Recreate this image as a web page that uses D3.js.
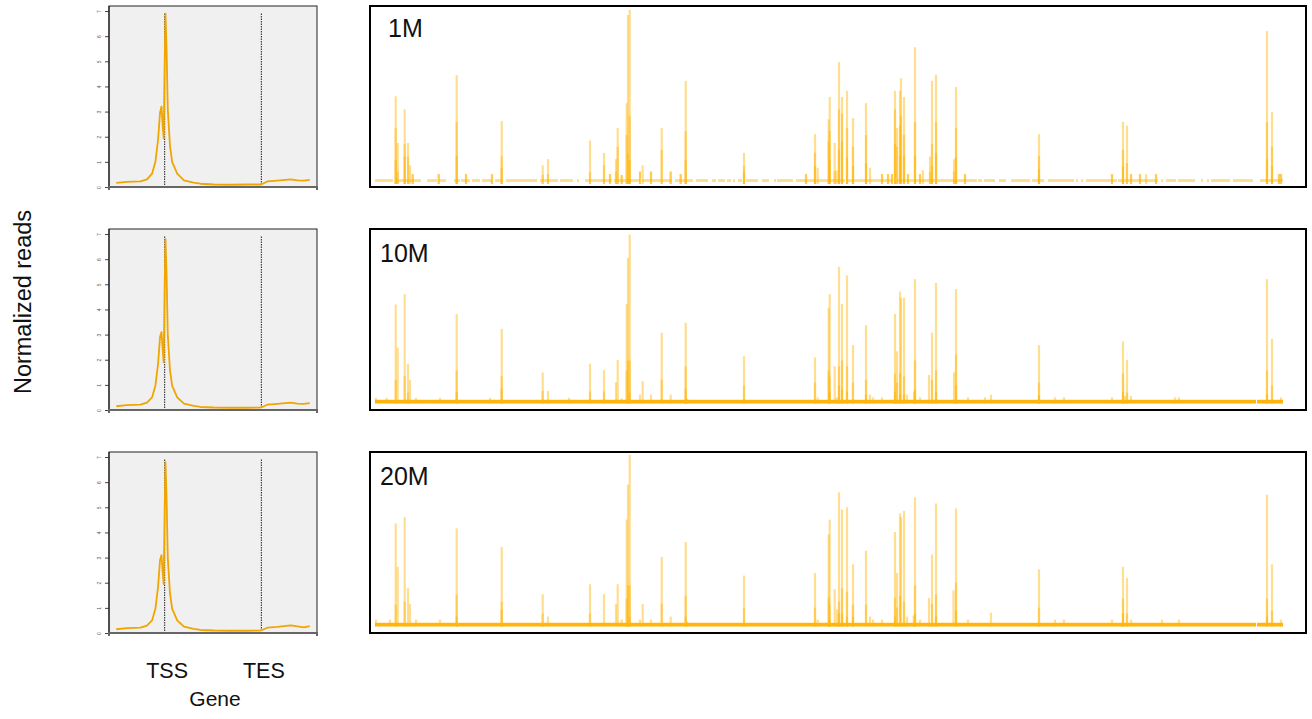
<!DOCTYPE html>
<html>
<head>
<meta charset="utf-8">
<script src="https://cdn.jsdelivr.net/npm/d3@7"></script>
<style>
  body { margin: 0; background: #fff; }
  text { font-family: "Liberation Sans", Arial, sans-serif; }
</style>
</head>
<body>
<div id="viz"></div>
<script>
const width = 1312;
const height = 719;

const sampleLabels = ['1M', '10M', '20M'];
const yTicks = [0, 1, 2, 3, 4, 5, 6, 7];
const geneMarks = [{ name: 'TSS', bin: 20 }, { name: 'TES', bin: 60 }];

// metagene profile, bins 0-80 (TSS = 20, TES = 60)
const profileBins = [0, 4.4, 10, 12.7, 14.8, 16.2, 17.3, 18.1, 18.7, 19.2, 19.6, 20.0, 20.35, 20.8, 21.3, 22.2, 23.1, 25.2, 28, 32, 34.8, 40.3, 47.3, 54.2, 59.7, 60.4, 62.4, 66.6, 72.1, 74.9, 77.6, 80];
const profile1M = [0.16, 0.2, 0.22, 0.3, 0.53, 1.0, 1.9, 2.96, 3.2, 2.44, 1.94, 4.8, 6.9, 5.5, 3.1, 1.65, 1.0, 0.53, 0.26, 0.17, 0.13, 0.1, 0.09, 0.1, 0.1, 0.12, 0.22, 0.25, 0.3, 0.26, 0.25, 0.28];
const profile10M = [0.15, 0.19, 0.21, 0.29, 0.5, 0.97, 1.85, 2.9, 3.1, 2.4, 1.9, 4.8, 6.8, 5.4, 3.0, 1.6, 0.97, 0.5, 0.25, 0.16, 0.12, 0.1, 0.09, 0.09, 0.1, 0.12, 0.21, 0.24, 0.29, 0.25, 0.24, 0.27];
const profile20M = [0.15, 0.19, 0.21, 0.29, 0.5, 0.97, 1.85, 2.9, 3.1, 2.4, 1.95, 4.8, 6.8, 5.4, 3.0, 1.6, 0.97, 0.5, 0.25, 0.16, 0.12, 0.1, 0.09, 0.09, 0.1, 0.12, 0.21, 0.24, 0.3, 0.26, 0.22, 0.27];

// browser tracks: [position, layer heights...] (position in kb, 0-908)
const peaks1M = [
  [20.7, 3.53, 2.24, 0.96], [22.7, 1.65, 0.5], [29.7, 3.0, 1.6, 1.1], [33, 1.65, 1.1], [35, 0.75], [37.7, 0.4, 0.4],
  [63.7, 0.4, 0.4], [81.7, 4.38, 2.5, 1.12], [91, 0.4, 0.4], [117, 0.4, 0.4], [126.7, 2.53, 1.12, 0.63],
  [167.7, 0.75, 0.36], [173, 1.0, 0.4], [215, 1.75, 0.47], [229, 1.25, 0.76], [235, 0.4, 0.4], [241, 1.0, 0.5],
  [242.7, 2.25, 1.5], [246.7, 0.36, 0.36], [251.7, 3.25, 1.97], [253, 6.8, 1.23], [254.7, 7.0, 2.73, 0.96],
  [265, 0.5, 0.5], [267.7, 0.75], [276, 0.5, 0.5], [286.7, 2.25, 1.37], [295.7, 0.5, 0.5], [305.7, 0.4, 0.4],
  [310.7, 4.15, 2.13, 0.96], [369, 1.25, 0.72, 0.5], [431, 0.4, 0.4], [440, 2.0, 1.26, 0.72], [442.7, 0.65],
  [453.7, 2.6, 1.73], [454.7, 3.5, 2.13, 0.96], [459.7, 1.65, 0.52], [461.7, 0.55], [464, 4.9, 3.0, 1.37],
  [467, 3.5, 2.84, 1.73], [472, 3.75, 2.25, 1.08], [478, 2.65, 1.49, 0.72], [491, 3.25, 1.97, 0.84], [495, 0.65],
  [507, 0.4, 0.4], [513, 0.4, 0.4], [517, 0.4, 0.4], [520, 3.75, 3.0, 1.6], [522, 2.25, 1.49], [525, 3.75, 2.37, 1.12],
  [526, 4.25, 2.73], [529, 3.5, 1.97, 1.12], [533, 0.4, 0.4], [540, 5.5, 2.49, 1.12], [545, 0.4, 0.4], [548, 0.55],
  [555, 1.1, 0.48], [557, 4.15, 1.6, 0.72], [561, 4.4, 2.49, 1.24], [579, 1.0, 0.5], [581, 3.9, 2.25, 1.08],
  [590, 0.4, 0.4], [664, 2.0, 1.12, 0.6], [737, 0.4, 0.4], [748, 2.5, 1.37, 0.72], [752, 2.35, 0.84],
  [756, 0.4, 0.4], [765, 0.4, 0.4], [771, 0.4], [781, 0.4, 0.4], [892, 6.15, 2.49, 1.0], [897, 2.9, 1.49, 0.72],
  [904, 0.4, 0.4], [906, 0.4, 0.4]
];
const peaks10M = [
  [1, 0.23], [11.7, 0.23], [20.7, 3.98, 0.95], [22.7, 2.25], [29.7, 4.4, 1.1], [33, 1.6, 0.44], [35, 0.95],
  [41, 0.23], [65, 0.23], [81.7, 3.6, 1.33, 0.48], [115, 0.23], [126.7, 3.0, 1.1, 0.6], [167.7, 1.25, 0.5],
  [173, 0.5], [194, 0.23], [215, 1.6, 0.48], [229, 1.35, 0.48], [241, 0.85], [242.7, 1.75], [246.7, 0.2],
  [251.7, 4.0, 1.33], [253, 5.85, 1.73], [254.7, 6.8, 1.73, 0.44], [265, 0.36], [267.7, 0.9], [276, 0.36],
  [286.7, 2.85, 0.96], [295.7, 0.36], [310.7, 3.25, 1.49, 0.6], [312, 0.2], [369, 1.9, 0.72], [440, 1.85, 0.84],
  [442.7, 0.25], [453.7, 3.85, 1.33], [454.7, 4.4, 1.08, 0.48], [459.7, 1.5], [461.7, 0.25], [464, 5.5, 1.49, 0.72],
  [467, 4.0, 1.73, 0.56], [472, 5.15, 1.49, 0.48], [478, 2.35, 0.84], [491, 3.15, 0.96, 0.36], [495, 0.36],
  [498, 0.25], [507, 0.25], [520, 3.6, 1.2, 0.48], [522, 2.1, 0.84], [525, 4.5, 1.24, 0.36], [526, 4.25],
  [529, 4.25, 1.08, 0.36], [532, 0.36], [539, 0.48], [540, 5.0, 1.73, 0.56], [545, 0.25], [554, 1.15],
  [557, 2.85, 0.96], [561, 4.85, 1.33, 0.48], [579, 1.25], [581, 4.6, 1.97, 0.72], [593, 0.25], [610, 0.25],
  [616, 0.36], [664, 2.35, 0.84, 0.32], [680, 0.25], [689, 0.25], [737, 0.25], [748, 2.5, 1.2, 0.48], [750, 0.3],
  [752, 1.75, 0.44], [756, 0.3], [800, 0.25], [804, 0.25], [892, 5.0, 1.33, 0.36], [897, 2.6, 0.72], [906, 0.25]
];
const peaks20M = [
  [1, 0.28], [15, 0.28], [20.7, 4.15, 0.88], [22.7, 2.4], [29.7, 4.4, 1.0], [33, 1.55], [35, 0.9], [41, 0.28],
  [65, 0.28], [81.7, 3.95, 1.28, 0.4], [126.7, 3.2, 1.0, 0.68], [167.7, 1.3, 0.52], [173, 0.4], [215, 1.7, 0.52],
  [229, 1.3], [241, 0.9], [242.7, 1.7], [246.7, 0.28], [251.7, 4.3, 1.12], [253, 5.7, 1.65], [254.7, 6.9, 1.65, 0.4],
  [265, 0.28], [267.7, 0.9], [276, 0.28], [286.7, 2.8, 0.92], [295.7, 0.4], [310.7, 3.4, 1.24, 0.4], [312, 0.2],
  [369, 2.05, 0.76], [440, 2.15, 0.76], [442.7, 0.28], [453.7, 3.7, 1.16], [454.7, 4.3, 0.88, 0.28], [459.7, 1.5],
  [462, 0.68], [464, 5.4, 1.0, 0.52], [467, 4.7, 1.53, 0.52], [472, 4.8, 1.4, 0.4], [478, 2.5, 0.88, 0.4],
  [491, 3.05, 0.88], [495, 0.4], [498, 0.28], [507, 0.28], [520, 3.8, 1.16, 0.4], [522, 2.15, 0.76],
  [525, 4.55, 1.24], [526, 4.4], [529, 4.65, 1.0], [532, 0.4], [538.7, 0.44], [540, 5.2, 1.65, 0.52], [545, 0.28],
  [554, 1.15], [557, 2.9, 0.92], [561, 4.95, 1.28, 0.4], [578.5, 1.45], [581, 4.75, 1.77, 0.64], [593, 0.28],
  [616, 0.55], [664, 2.3, 0.76], [680, 0.28], [689, 0.28], [737, 0.28], [748, 2.4, 1.12, 0.52], [752, 1.95, 0.52],
  [756, 0.28], [787, 0.28], [804, 0.28], [892, 5.3, 1.12, 0.4], [897, 2.5, 0.64], [906, 0.28]
];

// background coverage segments [start, end]
const strip1M = [
  [0, 18], [21, 46], [52, 62], [64, 71], [79, 85], [86, 95], [97, 105], [107, 117], [120, 127], [131, 162],
  [165, 183], [185, 198], [202, 204], [210, 237], [239, 265], [267, 297], [300, 318], [321, 333], [337, 341],
  [343, 350], [352, 356], [358, 360], [363, 367], [371, 383], [387, 394], [399, 401], [402, 418], [421, 470],
  [472, 518], [522, 560], [562, 602], [603, 607], [609, 620], [624, 631], [636, 655], [657, 669], [673, 699],
  [701, 703], [706, 708], [711, 742], [743, 783], [786, 788], [791, 801], [803, 820], [826, 828], [832, 834],
  [836, 855], [858, 878], [885, 908]
];
const strip10M = [[0, 881], [882, 908]];
const strip20M = [[0, 881], [882, 908]];

const profiles = [profile1M, profile10M, profile20M];
const peaks = [peaks1M, peaks10M, peaks20M];
const strips = [strip1M, strip10M, strip20M];

const panelTops = [6, 229, 452];
const panelH = 181;
const left = { x0: 109, x1: 317 };
const right = { x0: 370, x1: 1306 };
const amber = '#ffb300';

const svg = d3.select('#viz').append('svg')
  .attr('width', width)
  .attr('height', height);

const xProfile = d3.scaleLinear().domain([-3, 83]).range([left.x0, left.x1]);
const yProfile = d3.scaleLinear().domain([0, 7.2]).range([panelH, 0]);
const xTrack = d3.scaleLinear().domain([0, 908]).range([375, 1283]);

const line = d3.line()
  .x((d, i) => xProfile(profileBins[i]))
  .y(d => yProfile(d));

sampleLabels.forEach((label, k) => {
  const top = panelTops[k];

  // metagene panel
  const g = svg.append('g').attr('transform', `translate(0,${top})`);

  g.append('rect')
    .attr('x', left.x0)
    .attr('y', 0)
    .attr('width', left.x1 - left.x0)
    .attr('height', panelH)
    .attr('fill', '#f0f0f0')
    .attr('stroke', '#222')
    .attr('stroke-width', 1);

  g.selectAll('.gene-mark')
    .data(geneMarks)
    .enter()
    .append('line')
    .attr('x1', d => xProfile(d.bin))
    .attr('x2', d => xProfile(d.bin))
    .attr('y1', yProfile(6.9))
    .attr('y2', panelH)
    .attr('stroke', '#333')
    .attr('stroke-width', 1.1)
    .attr('stroke-dasharray', '1.5,1');

  g.append('path')
    .attr('fill', 'none')
    .attr('stroke', '#f0a500')
    .attr('stroke-width', 1.8)
    .attr('stroke-linejoin', 'round')
    .attr('d', line(profiles[k]));

  const yAxis = g.append('g')
    .attr('transform', `translate(${left.x0},0)`)
    .call(d3.axisLeft(yProfile).tickValues(yTicks).tickSize(4).tickFormat(d3.format('d')));
  yAxis.select('.domain').remove();
  yAxis.append('line')
    .attr('y1', 0).attr('y2', panelH)
    .attr('stroke', '#111');
  yAxis.selectAll('.tick line').attr('stroke', '#444');
  yAxis.selectAll('.tick text')
    .attr('font-size', 5)
    .attr('fill', '#555')
    .attr('dy', 0)
    .attr('text-anchor', 'middle')
    .attr('transform', 'rotate(-90)')
    .attr('x', 0)
    .attr('y', -8);

  g.append('path')
    .attr('fill', 'none')
    .attr('stroke', '#666')
    .attr('stroke-width', 2)
    .attr('d', `M${left.x0},${panelH + 3}V${panelH}H${left.x1}V${panelH + 3}`);

  // browser track panel
  const yTrack = d3.scaleLinear()
    .domain([0, 7])
    .range(k === 0 ? [panelH - 3, panelH - 177] : [panelH - 6.5, panelH - 180.5]);

  const t = svg.append('g').attr('transform', `translate(0,${top})`);

  const layers = peaks[k].flatMap(p => p.slice(1).map(v => ({ pos: p[0], v })));
  const binW = xTrack(2.2) - xTrack(0);

  t.selectAll('.bar')
    .data(layers)
    .enter()
    .append('rect')
    .attr('class', 'bar')
    .attr('x', d => xTrack(d.pos) - binW / 2)
    .attr('width', binW)
    .attr('y', d => yTrack(d.v))
    .attr('height', d => yTrack(0) - yTrack(d.v))
    .attr('fill', amber)
    .attr('fill-opacity', 0.43);

  t.selectAll('.strip')
    .data(strips[k])
    .enter()
    .append('rect')
    .attr('class', 'strip')
    .attr('x', d => xTrack(d[0]))
    .attr('width', d => xTrack(d[1]) - xTrack(d[0]))
    .attr('y', k === 0 ? yTrack(0.2) : yTrack(0.15))
    .attr('height', k === 0 ? yTrack(0.08) - yTrack(0.2) : yTrack(0) - yTrack(0.15))
    .attr('fill', k === 0 ? amber : '#ffb50a')
    .attr('fill-opacity', k === 0 ? 0.43 : 1);

  t.append('rect')
    .attr('x', right.x0)
    .attr('y', 0)
    .attr('width', right.x1 - right.x0)
    .attr('height', panelH)
    .attr('fill', 'none')
    .attr('stroke', '#000')
    .attr('stroke-width', 2);

  t.append('text')
    .attr('x', k === 0 ? 388 : 380)
    .attr('y', k === 0 ? 31 : 33)
    .attr('font-size', 25)
    .attr('fill', '#111')
    .text(label);
});

const lastTop = panelTops[2];

svg.selectAll('.gene-label')
  .data(geneMarks)
  .enter()
  .append('text')
  .attr('class', 'gene-label')
  .attr('x', d => xProfile(d.bin) + 2.5)
  .attr('y', lastTop + panelH + 45)
  .attr('text-anchor', 'middle')
  .attr('font-size', 21.5)
  .attr('fill', '#111')
  .text(d => d.name);

svg.append('text')
  .attr('x', (left.x0 + left.x1) / 2 + 2)
  .attr('y', lastTop + panelH + 73)
  .attr('text-anchor', 'middle')
  .attr('font-size', 21)
  .attr('fill', '#111')
  .text('Gene');

svg.append('text')
  .attr('transform', 'translate(31,302) rotate(-90)')
  .attr('text-anchor', 'middle')
  .attr('font-size', 23.5)
  .attr('fill', '#111')
  .text('Normalized reads');
</script>
</body>
</html>
